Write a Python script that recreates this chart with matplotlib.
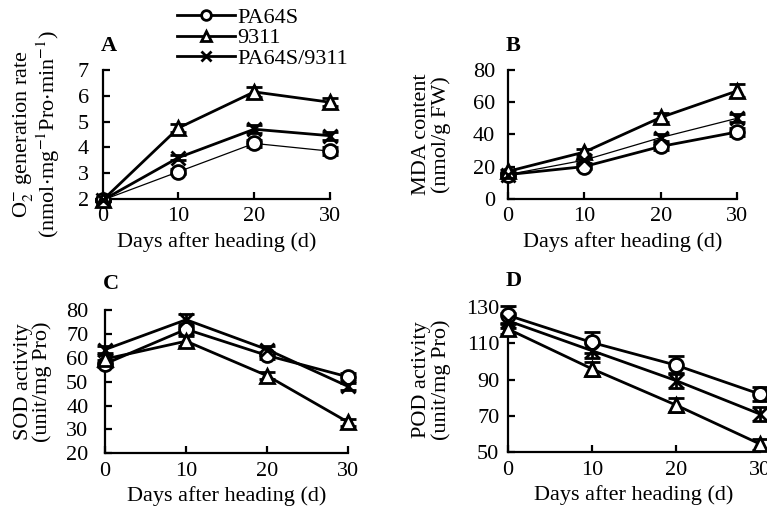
import matplotlib
matplotlib.use("Agg")
import matplotlib.pyplot as plt
from matplotlib.lines import Line2D

plt.rcParams['font.family'] = ['Liberation Serif', 'DejaVu Serif']
plt.rcParams['mathtext.fontset'] = 'stix'
plt.rcParams['font.size'] = 16

days = [0, 10, 20, 30]
names = ["PA64S", "9311", "PA64S/9311"]
markers = ["o", "^", "x"]

# A: O2- generation rate
o2_pa = [1.95, 3.05, 4.15, 3.85]
o2_93 = [1.95, 4.75, 6.15, 5.75]
o2_f1 = [1.95, 3.6, 4.7, 4.45]
o2_err = [[0.05, 0.1, 0.15, 0.15], [0.05, 0.15, 0.2, 0.15], [0.05, 0.1, 0.15, 0.15]]

# B: MDA content
mda_pa = [15, 20, 32.5, 41.5]
mda_93 = [17, 29, 50.5, 67]
mda_f1 = [15, 24, 38, 50]
mda_err = [[1, 1.5, 2, 2.5], [1, 2, 3, 4], [1, 1.5, 2, 2.5]]

# C: SOD activity
sod_pa = [57.5, 72, 61, 52]
sod_93 = [59.5, 67, 52.5, 33]
sod_f1 = [63.5, 76, 63.5, 48]
sod_err = [[1.5, 2, 1.5, 1.5], [1.5, 2, 1.5, 1.5], [1.5, 2.5, 1.5, 1.5]]

# D: POD activity
pod_pa = [125.5, 110.5, 98, 82]
pod_93 = [118, 96, 76, 54.5]
pod_f1 = [122.5, 106, 89.5, 71]
pod_err = [[5, 6, 5, 4], [3, 4, 4, 3], [4, 4, 4, 4]]

panels = [
    ("A", [o2_pa, o2_93, o2_f1], o2_err, (2, 7), [2, 3, 4, 5, 6, 7],
     "O$_2^{-}$ generation rate\n(nmol$\\cdot$mg$^{-1}$Pro$\\cdot$min$^{-1}$)",
     [0.134, 0.611, 0.296, 0.252], [0.9, 2.0, 2.0], 10, 11),
    ("B", [mda_pa, mda_93, mda_f1], mda_err, (0, 80), [0, 20, 40, 60, 80],
     "MDA content\n(nmol/g FW)",
     [0.662, 0.611, 0.299, 0.252], [2.0, 2.0, 0.9], 9, 16),
    ("C", [sod_pa, sod_93, sod_f1], sod_err, (20, 80), [20, 30, 40, 50, 60, 70, 80],
     "SOD activity\n(unit/mg Pro)",
     [0.137, 0.113, 0.317, 0.280], [2.0, 2.0, 2.0], 12, 10),
    ("D", [pod_pa, pod_93, pod_f1], pod_err, (50, 130), [50, 70, 90, 110, 130],
     "POD activity\n(unit/mg Pro)",
     [0.662, 0.115, 0.329, 0.284], [2.0, 2.0, 2.0], 6, 11),
]

fig = plt.figure(figsize=(7.67, 5.11), dpi=100)

for letter, series, errs, ylim, yticks, ylabel, pos, lws, ypad, lpad in panels:
    ax = fig.add_axes(pos)
    for vals, err, m, lw in zip(series, errs, markers, lws):
        ax.errorbar(days, vals, yerr=err, color="black", lw=lw, marker=m,
                    markersize=10, markerfacecolor="white", markeredgecolor="black",
                    markeredgewidth=2.0, capsize=6, elinewidth=2.0, capthick=2.0,
                    clip_on=False, zorder=3)
    ax.set_xlim(0, 30)
    ax.set_ylim(*ylim)
    ax.set_xticks(days)
    ax.set_yticks(yticks)
    ax.spines["top"].set_visible(False)
    ax.spines["right"].set_visible(False)
    ax.spines["left"].set_linewidth(1.6)
    ax.spines["bottom"].set_linewidth(1.6)
    ax.tick_params(direction="in", length=5, width=1.6, labelsize=16)
    ax.tick_params(axis="x", pad=6)
    ax.tick_params(axis="y", pad=ypad)
    ax.set_xlabel("Days after heading (d)", fontsize=16, labelpad=4)
    ax.set_ylabel(ylabel, fontsize=16, labelpad=lpad, linespacing=1.0)
    ax.text(-0.01, 1.11, letter, transform=ax.transAxes, fontsize=16,
            fontweight="bold", ha="left", va="bottom")

handles = [Line2D([0], [0], color="black", lw=2.0, marker=m, markersize=7,
                  markerfacecolor="white", markeredgewidth=2.0) for m in markers]
fig.legend(handles, names, loc="upper left", bbox_to_anchor=(0.228, 0.99),
           frameon=False, fontsize=16, handlelength=2.6, handletextpad=0.1,
           labelspacing=0.0, borderpad=0.1, borderaxespad=0)

fig.savefig("out.png", dpi=100)
